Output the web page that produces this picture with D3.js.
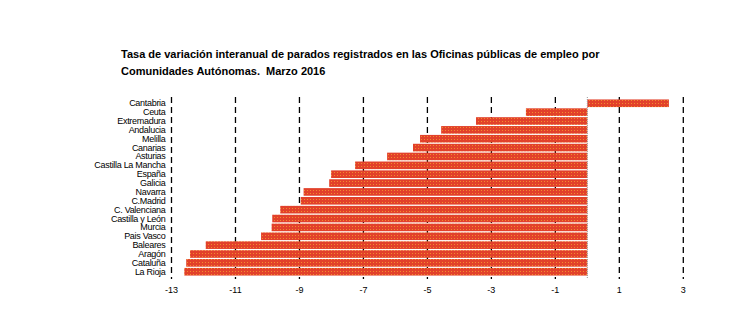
<!DOCTYPE html>
<html><head><meta charset="utf-8">
<script src="https://cdn.jsdelivr.net/npm/d3@7"></script>
<style>body{margin:0;background:#fff}svg{display:block}</style>
</head><body>
<svg id="c" width="733" height="327"></svg>
<script>
const categories = ["Cantabria","Ceuta","Extremadura","Andalucia","Melilla","Canarias","Asturias","Castilla La Mancha","España","Galicia","Navarra","C.Madrid","C. Valenciana","Castilla y León","Murcia","Pais Vasco","Baleares","Aragón","Cataluña","La Rioja"];
const values = [2.55,-1.92,-3.48,-4.57,-5.23,-5.45,-6.26,-7.26,-8.01,-8.07,-8.87,-8.96,-9.6,-9.85,-9.87,-10.2,-11.93,-12.42,-12.54,-12.6];
const tickValues = [-13,-11,-9,-7,-5,-3,-1,1,3];
const titleLines = ["Tasa de variación interanual de parados registrados en las Oficinas públicas de empleo por","Comunidades Autónomas.  Marzo 2016"];

const svg = d3.select("#c");
const x = d3.scaleLinear().domain([-13,3]).range([171.5,683.3]);
const y = d3.scaleBand().domain(categories).range([99,276]).paddingInner(0.14).paddingOuter(0.05);

const defs = svg.append("defs");
const pat = defs.append("pattern").attr("id","dots").attr("width",3).attr("height",3).attr("patternUnits","userSpaceOnUse");
pat.append("rect").attr("width",3).attr("height",3).attr("fill","#E2412A");
pat.append("rect").attr("x",1).attr("y",1).attr("width",1).attr("height",1).attr("fill","#F28A2E");

// title
svg.append("g").selectAll("text").data(titleLines).join("text")
  .attr("x",121).attr("y",(d,i)=>58+i*16.5)
  .style("white-space","pre")
  .attr("font-family","Liberation Sans, Arial, sans-serif").attr("font-weight","bold").attr("font-size",11)
  .attr("fill","#000").text(d=>d);

// dashed grid lines
svg.append("g").selectAll("line").data(tickValues).join("line")
  .attr("x1",d=>x(d)).attr("x2",d=>x(d)).attr("y1",97).attr("y2",279)
  .attr("stroke","#000").attr("stroke-width",1.3).attr("stroke-dasharray","6,4");

// bars
svg.append("g").selectAll("rect").data(values).join("rect")
  .attr("x",(d)=>x(Math.min(0,d))).attr("width",d=>Math.abs(x(d)-x(0)))
  .attr("y",(d,i)=>y(categories[i])).attr("height",y.bandwidth())
  .attr("fill","url(#dots)");

// zero line
svg.append("line").attr("x1",x(0)).attr("x2",x(0)).attr("y1",97).attr("y2",279)
  .attr("stroke","#999").attr("stroke-width",1).attr("stroke-dasharray","1,1");

// category labels
svg.append("g").selectAll("text").data(categories).join("text")
  .attr("x",165.5).attr("y",d=>y(d)+y.bandwidth()/2+3)
  .attr("text-anchor","end").attr("font-family","Liberation Sans, Arial, sans-serif")
  .attr("font-size",9).attr("letter-spacing",-0.3).attr("fill","#000").text(d=>d);

// x tick labels
svg.append("g").selectAll("text").data(tickValues).join("text")
  .attr("x",d=>x(d)).attr("y",293).attr("text-anchor","middle")
  .attr("font-family","Liberation Sans, Arial, sans-serif").attr("font-size",9)
  .attr("fill","#000").text(d=>d);
</script>
</body></html>
